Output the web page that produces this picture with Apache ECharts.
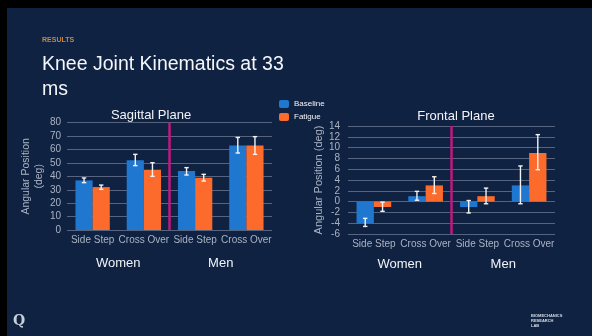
<!DOCTYPE html>
<html>
<head>
<meta charset="utf-8">
<style>
  html, body { margin: 0; padding: 0; background: #000; }
  #chart { width: 592px; height: 336px; }
</style>
<script src="https://cdn.jsdelivr.net/npm/echarts@6/dist/echarts.min.js"></script>
</head>
<body>
<div id="chart"></div>
<script>
// Categories
const movements = ['Side Step', 'Cross Over', 'Side Step', 'Cross Over'];
const groups = ['Women', 'Men'];
const seriesNames = ['Baseline', 'Fatigue'];

// Sagittal plane (deg): mean, lower and upper error bounds
const sagBaseline = [37, 52, 44, 63];
const sagBaselineLow = [35.3, 48, 41, 57.4];
const sagBaselineHigh = [38.8, 56.4, 46.5, 69];
const sagFatigue = [32, 45, 39, 63];
const sagFatigueLow = [30.3, 40, 36.5, 56.4];
const sagFatigueHigh = [33.5, 50.2, 41.5, 69.6];

// Frontal plane (deg)
const froBaseline = [-4, 1, -1, 3];
const froBaselineLow = [-4.6, 0.25, -2.1, -0.4];
const froBaselineHigh = [-3.1, 1.9, 0.2, 6.6];
const froFatigue = [-1, 3, 1, 9];
const froFatigueLow = [-1.8, 1.5, -0.4, 5.9];
const froFatigueHigh = [-0.1, 4.6, 2.5, 12.4];

// Axis ranges
const sagRange = [0, 80, 10];
const froRange = [-6, 14, 2];

// Divider between the Women and Men groups, on a 0..4 category scale
const dividerX = 2;

const BLUE = '#1f77d0';
const ORANGE = '#fd6b2c';
const MAGENTA = '#c0187e';
const GRID_LINE = '#56647f';
const TICK_TEXT = '#aab3c3';
const FONT = 'Liberation Sans, Arial, sans-serif';
const BAR_GAP_RATIO = 0.33;

function errorRenderer(side) {
  return function (params, api) {
    const cat = api.value(0);
    const band = api.size([1, 0])[0];
    const barW = band * (1 - BAR_GAP_RATIO) / 2;
    const lo = api.coord([cat, api.value(1)]);
    const hi = api.coord([cat, api.value(2)]);
    const x = lo[0] + side * barW / 2;
    const cap = 2.2;
    const style = { stroke: '#f2f2f2', lineWidth: 1.4 };
    return {
      type: 'group',
      children: [
        { type: 'line', shape: { x1: x, y1: lo[1], x2: x, y2: hi[1] }, style },
        { type: 'line', shape: { x1: x - cap, y1: lo[1], x2: x + cap, y2: lo[1] }, style },
        { type: 'line', shape: { x1: x - cap, y1: hi[1], x2: x + cap, y2: hi[1] }, style }
      ]
    };
  };
}

function errData(low, high) {
  return low.map((l, i) => [i, l, high[i]]);
}

function chartSeries(gi, base, fat, bl, bh, fl, fh, range) {
  const xi = gi * 3;
  return [
    { name: seriesNames[0], type: 'bar', xAxisIndex: xi, yAxisIndex: gi, data: base,
      itemStyle: { color: BLUE }, barGap: '0%', barCategoryGap: (BAR_GAP_RATIO * 100) + '%', z: 2 },
    { name: seriesNames[1], type: 'bar', xAxisIndex: xi, yAxisIndex: gi, data: fat,
      itemStyle: { color: ORANGE }, barGap: '0%', barCategoryGap: (BAR_GAP_RATIO * 100) + '%', z: 2 },
    { type: 'custom', xAxisIndex: xi, yAxisIndex: gi, data: errData(bl, bh),
      renderItem: errorRenderer(-1), z: 5, silent: true },
    { type: 'custom', xAxisIndex: xi, yAxisIndex: gi, data: errData(fl, fh),
      renderItem: errorRenderer(1), z: 5, silent: true },
    { type: 'line', xAxisIndex: xi + 2, yAxisIndex: gi,
      data: [[dividerX, range[0]], [dividerX, range[1]]],
      symbol: 'none', lineStyle: { color: MAGENTA, width: 2.5 }, z: 4, silent: true }
  ];
}

function xAxes(gi, labelMargin, groupMargin) {
  return [
    { type: 'category', gridIndex: gi, data: movements, position: 'bottom',
      axisLine: { show: false }, axisTick: { show: false },
      axisLabel: { color: TICK_TEXT, fontSize: 10, fontFamily: FONT, margin: labelMargin, interval: 0 } },
    { type: 'category', gridIndex: gi, data: groups, position: 'bottom',
      axisLine: { show: false }, axisTick: { show: false },
      axisLabel: { color: '#f2f4f8', fontSize: 13, fontFamily: FONT, margin: groupMargin } },
    { type: 'value', gridIndex: gi, min: 0, max: 4, show: false }
  ];
}

function yAxis(gi, range, name, nameGap, nameSize, labelMargin) {
  return {
    type: 'value', gridIndex: gi, min: range[0], max: range[1], interval: range[2],
    name: name, nameLocation: 'middle', nameGap: nameGap,
    nameTextStyle: { color: TICK_TEXT, fontSize: nameSize, fontFamily: FONT, lineHeight: 13 },
    axisLine: { show: false }, axisTick: { show: false },
    axisLabel: { color: TICK_TEXT, fontSize: 10, fontFamily: FONT, margin: labelMargin },
    splitLine: { lineStyle: { color: GRID_LINE, width: 1 } }
  };
}

const chart = echarts.init(document.getElementById('chart'), null, { renderer: 'canvas' });

chart.setOption({
  backgroundColor: '#000',
  animation: false,
  graphic: [
    { type: 'rect', left: 7, top: 8, shape: { width: 585, height: 328 },
      style: { fill: '#0f2242' }, z: -10 },
    { type: 'text', left: 42, top: 37,
      style: { text: 'RESULTS', fill: '#c8863e', font: 'bold 7px ' + FONT } },
    { type: 'text', left: 42, top: 52,
      style: { text: 'Knee Joint Kinematics at 33\nms', fill: '#f4f6fa', font: '19.5px ' + FONT, lineHeight: 25 } },
    { type: 'text', left: 13, top: 314,
      style: { text: 'Q', fill: '#c9ced8', font: 'bold 14px DejaVu Serif, serif' } },
    { type: 'text', left: 531, top: 313,
      style: { text: 'BIOMECHANICS\nRESEARCH\nLAB', fill: '#d8dde6', font: 'bold 4px ' + FONT, lineHeight: 5 } }
  ],
  title: [
    { text: 'Sagittal Plane', left: 146, top: 104, textAlign: 'center',
      textStyle: { color: '#f2f4f8', fontSize: 13, fontWeight: 'normal', fontFamily: FONT } },
    { text: 'Frontal Plane', left: 451, top: 105, textAlign: 'center',
      textStyle: { color: '#f2f4f8', fontSize: 13, fontWeight: 'normal', fontFamily: FONT } }
  ],
  legend: {
    data: seriesNames, orient: 'vertical', left: 274, top: 95,
    itemWidth: 10, itemHeight: 8, itemGap: 5,
    textStyle: { color: '#f2f4f8', fontSize: 8, fontFamily: FONT }
  },
  grid: [
    { left: 67, top: 122.7, width: 205, height: 107.3 },
    { left: 348, top: 126, width: 207, height: 108 }
  ],
  xAxis: [].concat(xAxes(0, 5, 27), xAxes(1, 5, 24)),
  yAxis: [
    yAxis(0, sagRange, 'Angular Position\n(deg)', 19, 10.5, 6),
    yAxis(1, froRange, 'Angular Position (deg)', 21, 11, 8)
  ],
  series: [].concat(
    chartSeries(0, sagBaseline, sagFatigue, sagBaselineLow, sagBaselineHigh, sagFatigueLow, sagFatigueHigh, sagRange),
    chartSeries(1, froBaseline, froFatigue, froBaselineLow, froBaselineHigh, froFatigueLow, froFatigueHigh, froRange)
  )
});
</script>
</body>
</html>
